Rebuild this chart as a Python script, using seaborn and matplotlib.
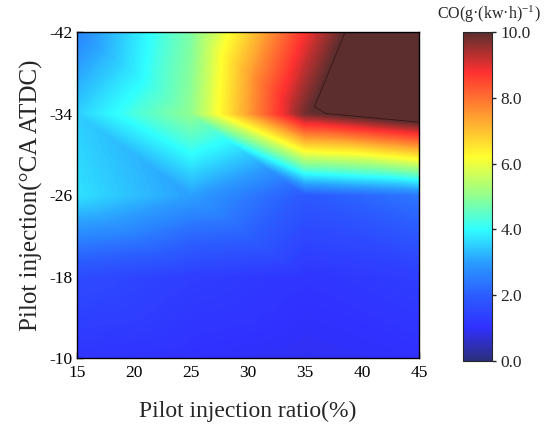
import numpy as np
import matplotlib
matplotlib.use("Agg")
import matplotlib.pyplot as plt
import matplotlib.tri as mtri
from matplotlib.colors import LinearSegmentedColormap, Normalize
from matplotlib.cm import ScalarMappable
import seaborn as sns

# ---- data ----
ratio = [15, 25, 35, 45]                      # Pilot injection ratio (%)
timing = [-42, -34, -26, -18, -10]            # Pilot injection (°CA ATDC)
co_m42 = [2.6, 4.8, 8.8, 12.2]
co_m34 = [3.5, 5.0, 9.8, 10.9]
co_m26 = [3.7, 3.0, 1.9, 2.4]
co_m18 = [1.6, 1.3, 1.1, 1.3]
co_m10 = [1.1, 1.0, 0.9, 1.0]
x_ticks = [15, 20, 25, 30, 35, 40, 45]
y_ticks = [-42, -34, -26, -18, -10]
cbar_ticks = [0, 2, 4, 6, 8, 10]
# diagonal used to split each grid cell (1 = "\" , 0 = "/"), rows top->bottom
cell_diag = [[1, 1, 0],
             [1, 1, 1],
             [1, 1, 1],
             [1, 1, 1]]

sns.set_theme(style="ticks")
plt.rcParams['font.family'] = ['Liberation Serif', 'DejaVu Serif']
plt.rcParams['mathtext.fontset'] = 'stix'
plt.rcParams['axes.unicode_minus'] = False

rows = [co_m42, co_m34, co_m26, co_m18, co_m10]
X, Y = np.meshgrid(ratio, timing)
Z = np.array(rows, dtype=float)
nc = len(ratio)
triangles = []
for r in range(len(timing) - 1):
    for c in range(nc - 1):
        a, b = r * nc + c, r * nc + c + 1
        d, e = (r + 1) * nc + c, (r + 1) * nc + c + 1
        if cell_diag[r][c]:
            triangles += [[a, b, e], [a, e, d]]
        else:
            triangles += [[a, b, d], [b, e, d]]
tri = mtri.Triangulation(X.ravel(), Y.ravel(), triangles)

nodes = [
    (0.00, "#2c2f7c"),
    (0.10, "#3030ff"),
    (0.20, "#2b5eff"),
    (0.30, "#2a9eff"),
    (0.40, "#30ffff"),
    (0.50, "#90ff90"),
    (0.62, "#ffff30"),
    (0.75, "#ff9a30"),
    (0.88, "#ff3030"),
    (1.00, "#5c2e2e"),
]
cmap = LinearSegmentedColormap.from_list("co", nodes)
cmap.set_over("#5c2e2e")
norm = Normalize(0, 10)

fig = plt.figure(figsize=(5.48, 4.29), dpi=100)
ax = fig.add_axes([0.1405, 0.1655, 0.6241, 0.7599])
levels = np.linspace(0, 10, 251)
ax.tricontourf(tri, Z.ravel(), levels=levels, cmap=cmap, norm=norm, extend="max")
ax.tricontour(tri, Z.ravel(), levels=[10], colors="#3a1515", linewidths=0.6)

ax.set_xlim(15, 45)
ax.set_ylim(-10, -42)
ax.set_xticks(x_ticks)
ax.set_yticks(y_ticks)
ax.tick_params(direction="in", length=4, width=1, labelsize=12.5, colors="black")
ax.tick_params(axis="x", pad=5)
for s in ax.spines.values():
    s.set_linewidth(1.0)
    s.set_color("black")
ax.set_xlabel("Pilot injection ratio(%)", fontsize=17, labelpad=14)
ax.set_ylabel("Pilot injection(°CA ATDC)", fontsize=18, labelpad=4)

cax = fig.add_axes([0.8443, 0.1592, 0.0529, 0.7655])
cb = fig.colorbar(ScalarMappable(norm=norm, cmap=cmap), cax=cax, ticks=cbar_ticks)
cb.ax.set_yticklabels([f"{t:.1f}" for t in cbar_ticks])
cb.ax.tick_params(labelsize=12.5, length=3, width=1, direction="out")
cb.outline.set_linewidth(0.8)
fig.text(0.892, 0.967, r"CO(g·(kw·h)$^{\mathregular{-1}}$)", ha="center", va="center", fontsize=11.5)

fig.savefig("out.png", dpi=100)
